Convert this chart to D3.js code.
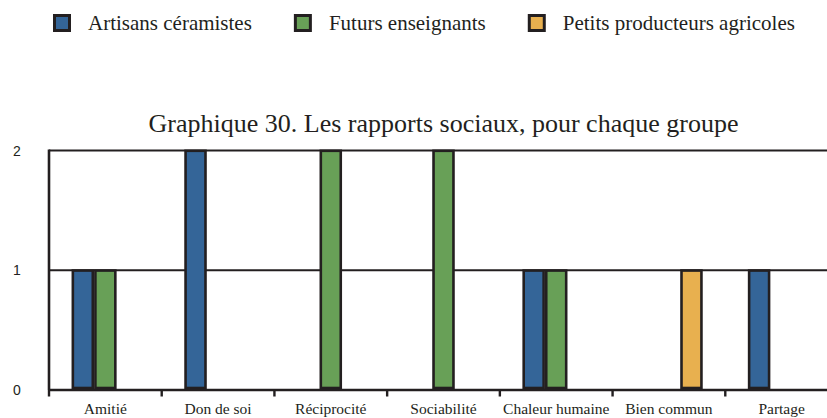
<!DOCTYPE html>
<html>
<head>
<meta charset="utf-8">
<script src="https://cdn.jsdelivr.net/npm/d3@7"></script>
<style>
  html, body { margin: 0; padding: 0; background: #fff; }
  svg { display: block; }
</style>
</head>
<body>
<svg id="chart" width="827" height="418"></svg>
<script>
// Categories and series values
const categories = ["Amitié", "Don de soi", "Réciprocité", "Sociabilité", "Chaleur humaine", "Bien commun", "Partage"];
const seriesNames = ["Artisans céramistes", "Futurs enseignants", "Petits producteurs agricoles"];
const artisans = [1, 2, 0, 0, 1, 0, 1];
const enseignants = [1, 0, 2, 2, 1, 0, 0];
const producteurs = [0, 0, 0, 0, 0, 1, 0];
const yTicks = [0, 1, 2];
const colors = ["#346598", "#68a057", "#e8b04f"];
const title = "Graphique 30. Les rapports sociaux, pour chaque groupe";

const seriesValues = [artisans, enseignants, producteurs];
const rows = categories.map((c, i) => ({
  cat: c,
  vals: seriesNames.map((s, k) => ({ key: s, value: seriesValues[k][i], color: colors[k] }))
}));

const svg = d3.select("#chart");
const ink = "#231f20";

const x0 = d3.scaleBand().domain(categories).range([49, 838]).padding(0);
const bw = x0.bandwidth();
const x1 = d3.scaleBand().domain(seriesNames).range([0.2 * bw, 0.8 * bw]).padding(0);
const y = d3.scaleLinear().domain([0, 2]).range([390, 150.5]);

// Title
svg.append("text")
  .attr("x", (49 + 838) / 2)
  .attr("y", 132)
  .attr("text-anchor", "middle")
  .attr("font-family", "'Liberation Serif', 'Times New Roman', serif")
  .attr("font-size", 26)
  .attr("fill", ink)
  .text(title);

// Horizontal grid lines at each non-zero tick
svg.append("g")
  .selectAll("line")
  .data(yTicks.filter(t => t > 0))
  .join("line")
  .attr("x1", 49).attr("x2", 827)
  .attr("y1", d => y(d)).attr("y2", d => y(d))
  .attr("stroke", ink)
  .attr("stroke-width", 2.2);

// Y tick labels
svg.append("g")
  .selectAll("text")
  .data(yTicks)
  .join("text")
  .attr("x", 13)
  .attr("y", d => y(d))
  .attr("dy", "0.36em")
  .attr("font-family", "'Liberation Sans', Arial, sans-serif")
  .attr("font-size", 14)
  .attr("fill", ink)
  .text(d => d);

// Bars
const groups = svg.append("g")
  .selectAll("g")
  .data(rows)
  .join("g")
  .attr("transform", d => `translate(${x0(d.cat)},0)`);

const sw = 2.6;
groups.selectAll("rect")
  .data(d => d.vals.filter(v => v.value > 0))
  .join("rect")
  .attr("x", d => x1(d.key) + sw / 2)
  .attr("width", x1.bandwidth() - sw)
  .attr("y", d => y(d.value) + sw / 2 - 1)
  .attr("height", d => y(0) - y(d.value) - sw / 2 - 1)
  .attr("fill", d => d.color)
  .attr("stroke", ink)
  .attr("stroke-width", sw);

// Left axis line
svg.append("line")
  .attr("x1", 49).attr("x2", 49)
  .attr("y1", y(2) - 1).attr("y2", y(0))
  .attr("stroke", ink)
  .attr("stroke-width", 2.6);

// Bottom axis with ticks at band boundaries
const xAxis = svg.append("g");
xAxis.append("line")
  .attr("x1", 49).attr("x2", 827)
  .attr("y1", y(0)).attr("y2", y(0))
  .attr("stroke", ink)
  .attr("stroke-width", 2.4);
xAxis.selectAll("line.tick")
  .data(categories)
  .join("line")
  .attr("class", "tick")
  .attr("x1", d => x0(d)).attr("x2", d => x0(d))
  .attr("y1", y(0)).attr("y2", y(0) + 6.5)
  .attr("stroke", ink)
  .attr("stroke-width", 2.4);
xAxis.selectAll("text")
  .data(categories)
  .join("text")
  .attr("x", d => Math.min(x0(d) + bw / 2, 827 - 30))
  .attr("y", 414)
  .attr("text-anchor", "middle")
  .attr("font-family", "'Liberation Serif', 'Times New Roman', serif")
  .attr("font-size", 15.5)
  .attr("fill", ink)
  .text(d => d);

// Legend
const legend = svg.append("g");
let lx = 53;
seriesNames.forEach((name, k) => {
  legend.append("rect")
    .attr("x", lx + 1.5).attr("y", 15.5)
    .attr("width", 15).attr("height", 15)
    .attr("fill", colors[k])
    .attr("stroke", ink)
    .attr("stroke-width", 3);
  const t = legend.append("text")
    .attr("x", lx + 35)
    .attr("y", 30)
    .attr("font-family", "'Liberation Serif', 'Times New Roman', serif")
    .attr("font-size", 21)
    .attr("fill", ink)
    .text(name);
  lx = lx + 35 + t.node().getComputedTextLength() + 42;
});
</script>
</body>
</html>
